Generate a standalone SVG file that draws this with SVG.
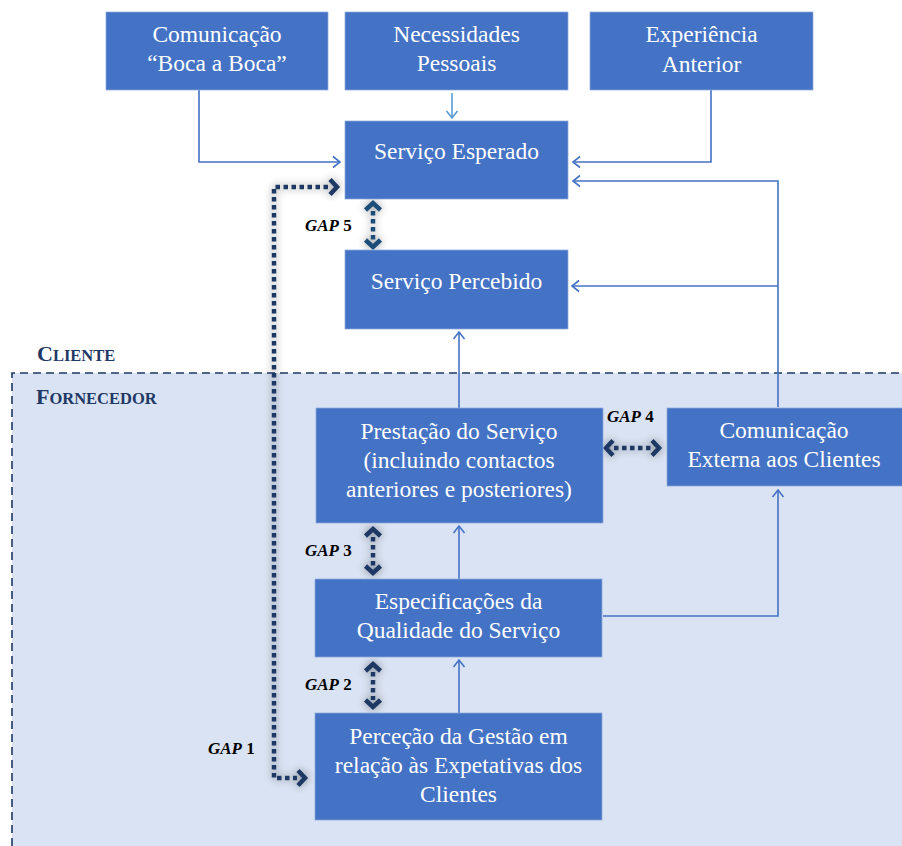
<svg xmlns="http://www.w3.org/2000/svg" width="902" height="846" viewBox="0 0 902 846">
<style>
.box{fill:#4472C4;stroke:#8EAADB;stroke-width:0.75}
.t{font-family:"Liberation Serif","Times New Roman",serif;font-size:23.5px;fill:#FFFFFF;text-anchor:middle}
.gl{font-family:"Liberation Serif","Times New Roman",serif;font-size:17px;font-weight:bold;fill:#000000}
.sec{font-family:"Liberation Serif","Times New Roman",serif;font-weight:bold;fill:#1F3864}
.con{fill:none;stroke:#4472C4;stroke-width:1.6}
.gap{fill:none;stroke:#1F3864;stroke-width:4.5;stroke-dasharray:4.5 3.5}
.chev{fill:none;stroke:#1F3864;stroke-width:4.5;stroke-linejoin:miter}
</style>
<defs>
<marker id="arr" markerUnits="userSpaceOnUse" markerWidth="20" markerHeight="20" viewBox="-10 -10 20 20" refX="0" refY="0" orient="auto">
<path d="M-7,-5.5 L0,0 L-7,5.5" fill="none" stroke="#4472C4" stroke-width="1.6"/>
</marker>
<marker id="arrL" markerUnits="userSpaceOnUse" markerWidth="20" markerHeight="20" viewBox="-10 -10 20 20" refX="0" refY="0" orient="auto">
<path d="M-7,-5.5 L0,0 L-7,5.5" fill="none" stroke="#5B9BD5" stroke-width="1.6"/>
</marker>
<path id="ch" d="M-7,-7.5 L0,0 L-7,7.5"/>
<filter id="glow" x="-60%" y="-60%" width="220%" height="220%">
<feGaussianBlur in="SourceAlpha" stdDeviation="4"/>
<feComponentTransfer><feFuncA type="linear" slope="0.45"/></feComponentTransfer>
<feMerge><feMergeNode/><feMergeNode in="SourceGraphic"/></feMerge>
</filter>
</defs>

<g id="fornecedor-region">
<rect x="12" y="373" width="890" height="473" fill="#DAE3F3"/>
<path d="M12,846 V373 H902" fill="none" stroke="#1F3864" stroke-width="1.6" stroke-dasharray="8 5"/>
</g>

<g id="labels">
<text class="sec" x="37" y="361"><tspan font-size="22">C</tspan><tspan font-size="16.5">LIENTE</tspan></text>
<text class="sec" x="36" y="404"><tspan font-size="22">F</tspan><tspan font-size="16.5">ORNECEDOR</tspan></text>
</g>

<g id="connectors">
<path class="con" d="M199,90 V162 H340" marker-end="url(#arr)"/>
<path d="M452,93 V118" fill="none" stroke="#5B9BD5" stroke-width="1.6" marker-end="url(#arrL)"/>
<path class="con" d="M711,90 V162 H573" marker-end="url(#arr)"/>
<path class="con" d="M778,407 V181 H573" marker-end="url(#arr)"/>
<path class="con" d="M778,286 H572" marker-end="url(#arr)"/>
<path class="con" d="M459,408 V332" marker-end="url(#arr)"/>
<path class="con" d="M459,579 V526" marker-end="url(#arr)"/>
<path class="con" d="M459,713 V660" marker-end="url(#arr)"/>
<path class="con" d="M603,616 H778 V490" marker-end="url(#arr)"/>
</g>

<g id="gaps">
<g id="gap5" filter="url(#glow)">
<path class="gap" d="M373,211 V240" style="stroke:#1F4E79"/>
<use href="#ch" class="chev" transform="translate(373,203) rotate(-90)" style="stroke:#1F4E79"/>
<use href="#ch" class="chev" transform="translate(373,247) rotate(90)" style="stroke:#1F4E79"/>
</g>
<g id="gap4" filter="url(#glow)">
<path class="gap" d="M614,448 H652"/>
<use href="#ch" class="chev" transform="translate(606,448) rotate(180)"/>
<use href="#ch" class="chev" transform="translate(659,448)"/>
</g>
<g id="gap3" filter="url(#glow)">
<path class="gap" d="M373,537 V566"/>
<use href="#ch" class="chev" transform="translate(373,529) rotate(-90)"/>
<use href="#ch" class="chev" transform="translate(373,573) rotate(90)"/>
</g>
<g id="gap2" filter="url(#glow)">
<path class="gap" d="M373,672 V700"/>
<use href="#ch" class="chev" transform="translate(373,664) rotate(-90)"/>
<use href="#ch" class="chev" transform="translate(373,707) rotate(90)"/>
</g>
<g id="gap1" filter="url(#glow)">
<path class="gap" d="M328,187 H274 V778 H297"/>
<use href="#ch" class="chev" transform="translate(337,187)"/>
<use href="#ch" class="chev" transform="translate(305,778)"/>
</g>
<text class="gl" x="305" y="231"><tspan font-style="italic">GAP</tspan> 5</text>
<text class="gl" x="607" y="422"><tspan font-style="italic">GAP</tspan> 4</text>
<text class="gl" x="305" y="556"><tspan font-style="italic">GAP</tspan> 3</text>
<text class="gl" x="305" y="690"><tspan font-style="italic">GAP</tspan> 2</text>
<text class="gl" x="208" y="754"><tspan font-style="italic">GAP</tspan> 1</text>
</g>

<g id="boca">
<rect class="box" x="106" y="12" width="222" height="78"/>
<text class="t" x="217" y="42">Comunicação</text>
<text class="t" x="217" y="71">“Boca a Boca”</text>
</g>
<g id="necessidades">
<rect class="box" x="345" y="12" width="223" height="78"/>
<text class="t" x="456.5" y="42">Necessidades</text>
<text class="t" x="456.5" y="71">Pessoais</text>
</g>
<g id="experiencia">
<rect class="box" x="590" y="12" width="223" height="78"/>
<text class="t" x="701.5" y="42">Experiência</text>
<text class="t" x="701.5" y="72">Anterior</text>
</g>
<g id="esperado">
<rect class="box" x="345" y="121" width="223" height="78"/>
<text class="t" x="456.5" y="159">Serviço Esperado</text>
</g>
<g id="percebido">
<rect class="box" x="345" y="250" width="223" height="79"/>
<text class="t" x="456.5" y="289">Serviço Percebido</text>
</g>
<g id="prestacao">
<rect class="box" x="316" y="408" width="287" height="115"/>
<text class="t" x="459" y="439">Prestação do Serviço</text>
<text class="t" x="459" y="468">(incluindo contactos</text>
<text class="t" x="459" y="497">anteriores e posteriores)</text>
</g>
<g id="externa">
<rect class="box" x="667" y="408" width="236" height="78"/>
<text class="t" x="784" y="438">Comunicação</text>
<text class="t" x="784" y="467">Externa aos Clientes</text>
</g>
<g id="especificacoes">
<rect class="box" x="315" y="579" width="287" height="78"/>
<text class="t" x="458.5" y="609">Especificações da</text>
<text class="t" x="458.5" y="638">Qualidade do Serviço</text>
</g>
<g id="percecao">
<rect class="box" x="315" y="713" width="287" height="107"/>
<text class="t" x="458.5" y="744">Perceção da Gestão em</text>
<text class="t" x="458.5" y="773">relação às Expetativas dos</text>
<text class="t" x="458.5" y="802">Clientes</text>
</g>
</svg>
